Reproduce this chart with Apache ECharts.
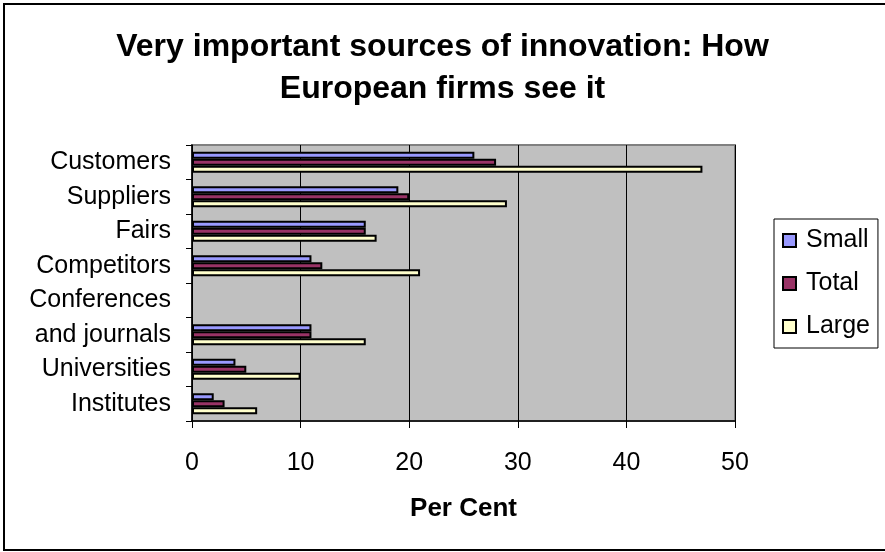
<!DOCTYPE html>
<html>
<head>
<meta charset="utf-8">
<script src="https://cdn.jsdelivr.net/npm/echarts@6/dist/echarts.min.js"></script>
<style>
  body { margin: 0; background: #fff; }
  #chart { width: 885px; height: 552px; }
</style>
</head>
<body>
<div id="chart"></div>
<script>
  // categories top to bottom ("Conferences and journals" takes two rows, like the original)
  var categories = ['Customers', 'Suppliers', 'Fairs', 'Competitors', 'Conferences', 'and journals', 'Universities', 'Institutes'];
  var small = [26, 19, 16, 11, null, 11, 4, 2];
  var total = [28, 20, 16, 12, null, 11, 5, 3];
  var large = [47, 29, 17, 21, null, 16, 10, 6];
  var xTicks = [0, 10, 20, 30, 40, 50];

  var font = 'Liberation Sans, Arial, sans-serif';
  var barStyle = function (color) {
    return { color: color, borderColor: '#000', borderWidth: 2 };
  };

  var chart = echarts.init(document.getElementById('chart'));
  var option = {
    backgroundColor: '#fff',
    animation: false,
    textStyle: { fontFamily: font, color: '#000' },
    title: {
      text: 'Very important sources of innovation: How\nEuropean firms see it',
      left: 'center',
      top: 21,
      textStyle: { fontSize: 32, fontWeight: 'bold', color: '#000', lineHeight: 42, fontFamily: font }
    },
    graphic: [{
      type: 'rect',
      shape: { x: 4, y: 4, width: 890, height: 546 },
      style: { fill: 'none', stroke: '#000', lineWidth: 2 },
      silent: true
    }],
    legend: {
      orient: 'vertical',
      left: 774,
      top: 219,
      padding: [9, 8, 9, 8],
      borderColor: '#000',
      borderWidth: 1,
      itemWidth: 13,
      itemHeight: 13,
      itemGap: 18,
      icon: 'rect',
      textStyle: { fontSize: 25, color: '#000', fontFamily: font, lineHeight: 24, padding: [0, 0, 0, 5] },
      data: ['Small', 'Total', 'Large']
    },
    grid: {
      left: 192,
      right: 150,
      top: 145,
      bottom: 131,
      show: true,
      backgroundColor: '#C0C0C0',
      borderColor: '#808080',
      borderWidth: 2
    },
    xAxis: {
      type: 'value',
      min: xTicks[0],
      max: xTicks[xTicks.length - 1],
      interval: 10,
      name: 'Per Cent',
      nameLocation: 'middle',
      nameGap: 75,
      nameTextStyle: { fontSize: 26, fontWeight: 'bold', color: '#000', fontFamily: font },
      axisLine: { show: true, lineStyle: { color: '#000', width: 1.5 } },
      axisTick: { show: true, length: 7, lineStyle: { color: '#000' } },
      axisLabel: { fontSize: 25, color: '#000', margin: 30, fontFamily: font },
      splitLine: { show: true, lineStyle: { color: '#000', width: 1 } }
    },
    yAxis: {
      type: 'category',
      inverse: true,
      data: categories,
      axisLine: { show: true, lineStyle: { color: '#000', width: 1.5 } },
      axisTick: { show: true, length: 6, lineStyle: { color: '#000' } },
      axisLabel: { fontSize: 25, color: '#000', margin: 21, fontFamily: font },
      splitLine: { show: false }
    },
    series: [
      { name: 'Small', type: 'bar', data: small, barWidth: 7, barGap: '0%', itemStyle: barStyle('#9999FF') },
      { name: 'Total', type: 'bar', data: total, barWidth: 7, barGap: '0%', itemStyle: barStyle('#993366') },
      { name: 'Large', type: 'bar', data: large, barWidth: 7, barGap: '0%', itemStyle: barStyle('#FFFFCC') }
    ]
  };
  chart.setOption(option);
</script>
</body>
</html>
